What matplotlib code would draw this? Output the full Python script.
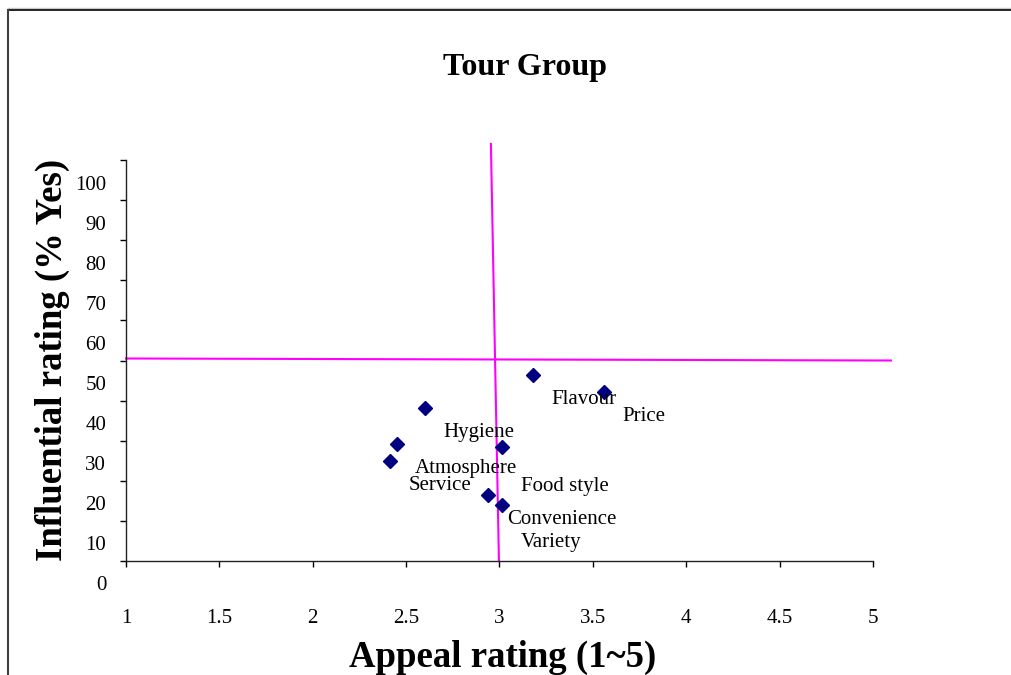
import matplotlib
matplotlib.use("Agg")
import matplotlib.pyplot as plt
from matplotlib.lines import Line2D
from matplotlib.transforms import ScaledTranslation

# Attributes rated by the tour group
attributes = ["Flavour", "Price", "Hygiene", "Atmosphere", "Service",
              "Food style", "Convenience", "Variety"]
appeal = [3.18, 3.56, 2.60, 2.45, 2.415, 3.015, 2.94, 3.015]
influential = [46.5, 42.1, 38.2, 29.3, 25.0, 28.4, 16.5, 13.9]

x_ticks = [1, 1.5, 2, 2.5, 3, 3.5, 4, 4.5, 5]
x_tick_labels = ["1", "1.5", "2", "2.5", "3", "3.5", "4", "4.5", "5"]
y_ticks = [0, 10, 20, 30, 40, 50, 60, 70, 80, 90, 100]
y_tick_labels = ["0", "10", "20", "30", "40", "50", "60", "70", "80", "90", "100"]

# Quadrant divider lines (start point, end point) in data units
h_divider = ([1.0, 5.096], [50.5, 50.0])
v_divider = ([2.954, 2.997], [104.0, 0.0])

W, H, DPI = 1012, 675, 100
plt.rcParams["font.family"] = ["Liberation Serif", "DejaVu Serif"]

fig = plt.figure(figsize=(W / DPI, H / DPI), dpi=DPI)
fig.patch.set_facecolor("white")


def fx(px):
    return px / W


def fy(py):
    return 1 - py / H


# Chart area frame (runs off the right and bottom edges)
fig.add_artist(Line2D([fx(8), fx(1020)], [fy(8), fy(8)], transform=fig.transFigure,
                      color="#c8c8c8", lw=1.0))
fig.add_artist(Line2D([fx(8), fx(1020)], [fy(9.5), fy(9.5)], transform=fig.transFigure,
                      color="black", lw=1.2))
fig.add_artist(Line2D([fx(8), fx(8)], [fy(9.5), fy(700)], transform=fig.transFigure,
                      color="#404040", lw=1.5))

ax = fig.add_axes([fx(126), fy(561), fx(873) - fx(126), fy(160) - fy(561)])
ax.set_xlim(1, 5)
ax.set_ylim(0, 100)
for side in ("top", "right"):
    ax.spines[side].set_visible(False)
for side in ("left", "bottom"):
    ax.spines[side].set_color("#222222")
    ax.spines[side].set_linewidth(1.0)

ax.set_xticks(x_ticks)
ax.set_xticklabels(x_tick_labels)
ax.set_yticks(y_ticks)
ax.set_yticklabels(y_tick_labels)
ax.tick_params(direction="out", length=4.3, width=1.0, color="black",
               labelsize=15, labelcolor="black")
ax.tick_params(axis="x", pad=0)
ax.tick_params(axis="y", pad=10)

# Tick labels sit below their ticks
x_shift = ScaledTranslation(0, -(623 - 567) / DPI, fig.dpi_scale_trans)
for lab in ax.get_xticklabels():
    lab.set_verticalalignment("baseline")
    lab.set_transform(lab.get_transform() + x_shift)
y_shift = ScaledTranslation(0, -29.5 / DPI, fig.dpi_scale_trans)
for lab in ax.get_yticklabels():
    lab.set_verticalalignment("baseline")
    lab.set_transform(lab.get_transform() + y_shift)

# Quadrant lines
ax.plot(*h_divider, color="#ff00ff", lw=1.5, clip_on=False, zorder=2)
ax.plot(*v_divider, color="#ff00ff", lw=1.5, clip_on=False, zorder=2)

# Data points
ax.plot(appeal, influential, linestyle="none", marker="D", markersize=7.2,
        color="#000080", zorder=3, clip_on=False)

label_offsets = {"Food style": (18.5, -43.5), "Variety": (18.5, -41.5)}
for name, xv, yv in zip(attributes, appeal, influential):
    off = label_offsets.get(name, (18.5, -29))
    ax.annotate(name, (xv, yv), xytext=off, textcoords="offset pixels",
                ha="left", va="baseline", fontsize=15, color="black")

# Title and axis titles
fig.text(fx(525), fy(75), "Tour Group", ha="center", va="baseline",
         fontsize=23, fontweight="bold")
fig.text(fx(503), fy(667), "Appeal rating (1~5)", ha="center", va="baseline",
         fontsize=26.5, fontweight="bold")
fig.text(fx(52), fy(360), "Influential rating (% Yes)", ha="center", va="center",
         rotation=90, fontsize=26.5, fontweight="bold")

fig.savefig("out.png", dpi=DPI, facecolor="white")
